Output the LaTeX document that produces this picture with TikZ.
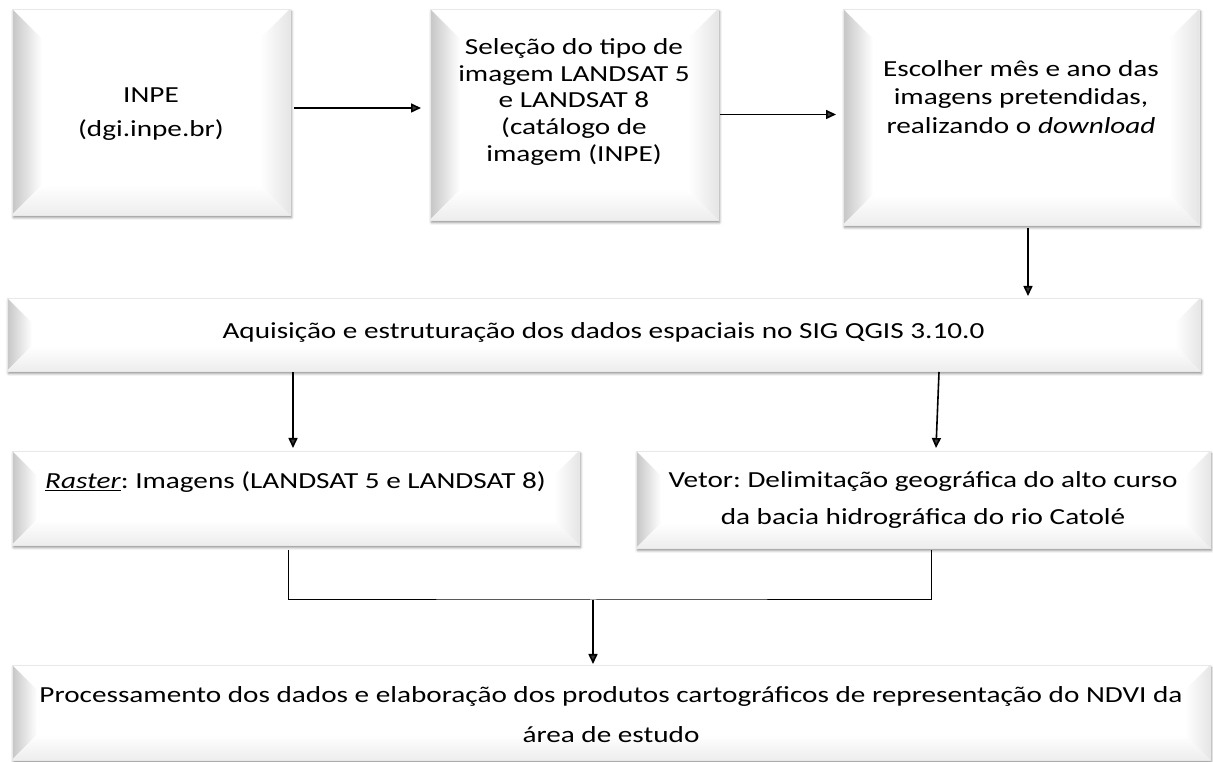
\documentclass[tikz,border=0pt]{standalone}
\usepackage{fontspec}
\setmainfont{Carlito}[FakeStretch=1.27]
\frenchspacing
\usetikzlibrary{calc,arrows.meta,shadows.blur}
\pgfdeclarelayer{bg}
\pgfsetlayers{bg,main}
\newcommand\bevelbox[2]{%
  \path[fill=white, blur shadow={shadow xshift=1.5pt, shadow yshift=-2.5pt, shadow blur radius=2.5pt, shadow opacity=45}]
    (#1.south west) rectangle (#1.north east);
  \shade[left color=gray!45, right color=white]
    (#1.south west) -- (#1.north west) -- ($(#1.north west)+(#2,-#2)$) -- ($(#1.south west)+(#2,#2)$) -- cycle;
  \shade[bottom color=gray!14, top color=white]
    (#1.south west) -- (#1.south east) -- ($(#1.south east)+(-#2,#2)$) -- ($(#1.south west)+(#2,#2)$) -- cycle;
  \shade[right color=gray!20, left color=white]
    (#1.south east) -- (#1.north east) -- ($(#1.north east)+(-#2,-#2)$) -- ($(#1.south east)+(-#2,#2)$) -- cycle;
  \draw[gray!18, line width=0.6pt] (#1.south west) rectangle (#1.north east);
}
\begin{document}
\begin{tikzpicture}[x=1pt,y=1pt,
  box/.style={rectangle, draw=none, inner sep=0pt, outer sep=0pt},
  txt/.style={font=\fontsize{23}{26.7}\selectfont, align=center, inner sep=0pt},
  arr/.style={line width=1.6pt, -{Triangle[length=10pt,width=9pt]}},
  joint/.style={line width=1pt}]
\useasboundingbox (0,0) rectangle (1213,762);

\node[box, minimum width=278pt, minimum height=206pt,
  label={[txt, yshift=-2pt]center:{INPE\\[8pt](dgi.inpe.br)}}] (b1) at (151,650) {};
\node[box, minimum width=288pt, minimum height=211pt,
  label={[txt, yshift=12.5pt]center:{Seleção do tipo de\\imagem LANDSAT 5\\e LANDSAT 8\\(catálogo de\\imagem (INPE)}}] (b2) at (574,647.5) {};
\node[box, minimum width=356pt, minimum height=216pt,
  label={[txt, font=\fontsize{23}{28.5}\selectfont, yshift=20pt]center:{Escolher mês e ano das\\imagens pretendidas,\\realizando o \textit{download}}}] (b3) at (1021,645) {};
\node[box, minimum width=1193pt, minimum height=73pt,
  label={[txt, yshift=2.5pt]center:{Aquisição e estruturação dos dados espaciais no SIG QGIS 3.10.0}}] (b4) at (603.5,427.5) {};
\node[box, minimum width=567pt, minimum height=94pt,
  label={[txt, yshift=16pt]center:{\underline{\textit{Raster}}: Imagens (LANDSAT 5 e LANDSAT 8)}}] (b5) at (295.5,264) {};
\node[box, minimum width=574pt, minimum height=97pt,
  label={[txt, font=\fontsize{23}{37.5}\selectfont, yshift=-0.5pt]center:{Vetor: Delimitação geográfica do alto curso\\da bacia hidrográfica do rio Catolé}}] (b6) at (923,262.5) {};
\node[box, minimum width=1198pt, minimum height=95pt,
  label={[txt, font=\fontsize{23}{40}\selectfont, yshift=-2.5pt]center:{Processamento dos dados e elaboração dos produtos cartográficos de representação do NDVI da\\área de estudo}}] (b7) at (611,49.5) {};

\begin{pgfonlayer}{bg}
  \bevelbox{b1}{30}
  \bevelbox{b2}{30}
  \bevelbox{b3}{30}
  \bevelbox{b4}{25}
  \bevelbox{b5}{25}
  \bevelbox{b6}{25}
  \bevelbox{b7}{25}
\end{pgfonlayer}

\draw[arr] ($(b1.east)+(4,4)$) -- ($(b2.west)+(-9,6.5)$);
\draw[arr] ($(b2.east)+(2,0)$) -- ($(b3.west)+(-7,2.5)$);
\draw[arr] ($(b3.south)+(7,-3)$) -- ($(b4.north -| b3.south)+(7,2)$);
\draw[arr] ($(b4.south -| b5.north)+(-2.5,-1)$) -- ($(b5.north)+(-2.5,3)$);
\draw[arr] ($(b4.south -| b6.north)+(16,-1)$) -- ($(b6.north)+(13,3)$);
\coordinate (jn) at (593,162);
\draw[joint] ($(b5.south)+(-7.5,-5)$) |- (jn) -| ($(b6.south)+(8,-2)$);
\draw[arr] (jn) -- ($(jn |- b7.north)+(0,1)$);
\end{tikzpicture}
\end{document}
